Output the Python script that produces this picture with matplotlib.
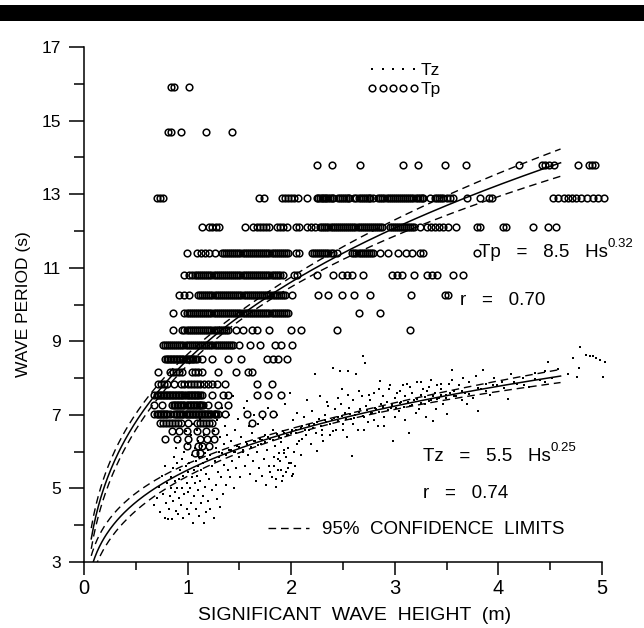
import numpy as np
import matplotlib
matplotlib.use("Agg")
import matplotlib.pyplot as plt
from matplotlib.lines import Line2D
from matplotlib.ticker import MultipleLocator

plt.rcParams['font.family'] = ['Liberation Sans', 'DejaVu Sans']

# ---------------- data ----------------
# fitted relations  T = a * Hs^b
tp_fit = (8.5, 0.32)
tz_fit = (5.5, 0.25)
tp_r = 0.70
tz_r = 0.74
fit_hs_range = (0.07, 4.6)
# 95% confidence band (log-space half width: w0, centre ln Hs, spread)
tp_ci = (0.012, np.log(1.7), 0.5)
tz_ci = (0.011, np.log(2.5), 0.35)

# Tp observations: discrete spectral-peak periods (s) and the Hs (m) values seen on each
tp_15_9 = [0.84, 0.87, 1.01]
tp_14_7 = [0.81, 0.84, 0.94, 1.18, 1.43]
tp_13_8 = [2.25, 2.39, 2.66, 3.08, 3.22, 3.48, 3.69, 4.20, 4.42, 4.45, 4.49, 4.54,
           4.77, 4.87, 4.90, 4.93]
tp_12_9 = [0.70, 0.73, 0.76, 1.69, 1.74, 1.91, 1.94, 1.97, 2.00, 2.03, 2.07, 2.15,
           2.25, 2.28, 2.31, 2.34, 2.37, 2.40, 2.45, 2.49, 2.53, 2.56, 2.61, 2.65,
           2.69, 2.73, 2.76, 2.79, 2.84, 2.88, 2.92, 2.96, 3.00, 3.04, 3.08, 3.12,
           3.16, 3.20, 3.24, 3.27, 3.34, 3.39, 3.43, 3.47, 3.50, 3.53, 3.56, 3.70,
           3.82, 3.91, 3.94, 4.53, 4.58, 4.63, 4.67, 4.71, 4.75, 4.80, 4.86, 4.91,
           4.96, 5.02,
           2.26, 2.30, 2.33, 2.36, 2.39, 2.47, 2.51, 2.55, 2.63, 2.67, 2.71, 2.75,
           2.86, 2.90, 2.94, 2.98, 3.02, 3.06, 3.10, 3.14, 3.18, 3.22, 3.26, 3.41, 3.45]
tp_12_1 = [1.14, 1.21, 1.24, 1.27, 1.30, 1.55, 1.63, 1.67, 1.70, 1.73, 1.76, 1.79,
           1.86, 1.89, 1.92, 1.96, 2.05, 2.08, 2.15, 2.19, 2.23, 2.28, 2.32, 2.36,
           2.40, 2.44, 2.48, 2.52, 2.56, 2.60, 2.64, 2.68, 2.72, 2.76, 2.80, 2.84,
           2.88, 2.95, 2.99, 3.03, 3.07, 3.11, 3.15, 3.19, 3.24, 3.31, 3.35, 3.39,
           3.43, 3.47, 3.51, 3.59, 3.79, 3.82, 4.04, 4.07, 4.33, 4.48, 4.56,
           2.30, 2.34, 2.38, 2.42, 2.46, 2.50, 2.54, 2.58, 2.62, 2.66, 2.70, 2.74,
           2.78, 2.82, 2.86, 2.97, 3.01, 3.05, 3.09, 3.13, 3.17]
tp_11_4 = [0.99, 1.09, 1.13, 1.17, 1.21, 1.26, 1.33, 1.37, 1.41, 1.45, 1.49, 1.53,
           1.57, 1.61, 1.65, 1.69, 1.73, 1.77, 1.81, 1.85, 1.89, 1.93, 1.97, 2.05,
           2.08, 2.20, 2.24, 2.28, 2.32, 2.36, 2.40, 2.44, 2.59, 2.63, 2.67, 2.71,
           2.75, 2.79, 2.86, 2.93, 3.03, 3.11, 3.17, 3.24, 3.27, 3.79,
           1.35, 1.39, 1.43, 1.47, 1.51, 1.55, 1.59, 1.63, 1.67, 1.71, 1.75, 1.79,
           1.83, 1.87, 1.91, 1.95, 2.22, 2.26, 2.30, 2.34, 2.38, 2.61, 2.65, 2.69,
           2.73, 2.77]
tp_10_8 = [0.97, 1.01, 1.04, 1.07, 1.11, 1.15, 1.19, 1.23, 1.27, 1.31, 1.35, 1.39,
           1.43, 1.47, 1.51, 1.55, 1.59, 1.63, 1.67, 1.71, 1.75, 1.79, 1.83, 1.87,
           1.92, 2.03, 2.06, 2.25, 2.40, 2.49, 2.54, 2.59, 2.69, 2.97, 3.02, 3.07,
           3.19, 3.31, 3.36, 3.41, 3.56, 3.66,
           1.09, 1.13, 1.17, 1.21, 1.25, 1.29, 1.33, 1.37, 1.41, 1.45, 1.49, 1.53,
           1.57, 1.61, 1.65, 1.69, 1.73, 1.77, 1.81, 1.85, 1.89]
tp_10_3 = [0.92, 0.97, 1.01, 1.10, 1.14, 1.18, 1.22, 1.26, 1.30, 1.34, 1.38, 1.42,
           1.46, 1.50, 1.54, 1.58, 1.62, 1.66, 1.70, 1.74, 1.78, 1.82, 1.86, 1.90,
           1.94, 2.01, 2.26, 2.36, 2.49, 2.61, 2.76, 3.16, 3.48, 3.51,
           1.12, 1.16, 1.20, 1.24, 1.28, 1.32, 1.36, 1.40, 1.44, 1.48, 1.52, 1.56,
           1.60, 1.64, 1.68, 1.72, 1.76, 1.80, 1.84, 1.88, 1.92]
tp_9_8 = [0.86, 0.97, 1.01, 1.05, 1.09, 1.13, 1.17, 1.21, 1.25, 1.29, 1.33, 1.37,
          1.41, 1.45, 1.49, 1.53, 1.57, 1.61, 1.65, 1.69, 1.73, 1.77, 1.81, 1.85,
          1.89, 1.93, 1.97, 2.65, 2.86,
          0.99, 1.03, 1.07, 1.11, 1.15, 1.19, 1.23, 1.27, 1.31, 1.35, 1.39, 1.43,
          1.47, 1.51, 1.55, 1.59, 1.63, 1.67, 1.71, 1.75, 1.79, 1.83, 1.87, 1.91, 1.95]
tp_9_3 = [0.86, 0.95, 0.99, 1.03, 1.07, 1.11, 1.15, 1.19, 1.23, 1.27, 1.31, 1.35,
          1.39, 1.47, 1.53, 1.62, 1.67, 1.79, 2.00, 2.09, 2.44, 3.15,
          0.97, 1.01, 1.05, 1.09, 1.13, 1.17, 1.21, 1.25, 1.29, 1.33, 1.37]
tp_8_9 = [0.76, 0.80, 0.84, 0.88, 0.92, 0.96, 1.00, 1.04, 1.08, 1.12, 1.16, 1.20,
          1.24, 1.28, 1.32, 1.36, 1.40, 1.44, 1.50, 1.60, 1.70, 1.84, 1.90, 2.01,
          0.78, 0.82, 0.86, 0.90, 0.94, 0.98, 1.02, 1.06, 1.10, 1.14, 1.18, 1.22,
          1.26, 1.30, 1.34, 1.38, 1.42]
tp_8_5 = [0.78, 0.81, 0.84, 0.87, 0.90, 0.93, 0.96, 0.99, 1.02, 1.05, 1.09, 1.14,
          1.24, 1.39, 1.52, 1.77, 1.82, 1.87, 1.96,
          0.80, 0.83, 0.86, 0.89, 0.92, 0.95, 0.98, 1.01, 1.04, 1.07]
tp_8_2 = [0.71, 0.83, 0.86, 0.89, 0.92, 0.95, 1.04, 1.07, 1.10, 1.14, 1.29, 1.47,
          1.58, 1.62]
tp_7_8 = [0.71, 0.74, 0.77, 0.80, 0.87, 0.94, 0.97, 1.00, 1.03, 1.06, 1.09, 1.12,
          1.16, 1.20, 1.24, 1.28, 1.36, 1.67, 1.81]
tp_7_5 = [0.68, 0.71, 0.74, 0.77, 0.80, 0.83, 0.86, 0.89, 0.92, 0.95, 0.98, 1.01,
          1.04, 1.07, 1.10, 1.14, 1.24, 1.34, 1.39, 1.67, 1.78, 1.90,
          0.70, 0.73, 0.76, 0.79, 0.82, 0.85, 0.88, 0.91, 0.94, 0.97, 1.00, 1.03,
          1.06, 1.09, 1.12]
tp_7_3 = [0.68, 0.75, 0.85, 0.88, 0.91, 0.94, 0.97, 1.00, 1.03, 1.06, 1.09, 1.12,
          1.15, 1.20, 1.29, 1.39,
          0.87, 0.90, 0.93, 0.96, 0.99, 1.02, 1.05, 1.08, 1.11, 1.13]
tp_7_0 = [0.68, 0.71, 0.74, 0.77, 0.80, 0.83, 0.87, 0.90, 0.93, 0.96, 0.99, 1.02,
          1.05, 1.08, 1.11, 1.14, 1.17, 1.20, 1.23, 1.26, 1.29, 1.36, 1.57, 1.72, 1.82,
          0.70, 0.73, 0.76, 0.79, 0.89, 0.92, 0.95, 0.98, 1.01, 1.04, 1.07, 1.10,
          1.13, 1.16, 1.19, 1.22, 1.25, 1.27]
tp_6_8 = [0.73, 0.76, 0.79, 0.82, 0.85, 0.88, 0.91, 0.94, 1.00, 1.09, 1.12, 1.15,
          1.18, 1.21, 1.24, 1.62]
tp_6_6 = [0.85, 0.92, 0.99, 1.09, 1.18, 1.26]
tp_6_4 = [0.78, 0.90, 1.00, 1.12, 1.19, 1.25]
tp_6_2 = [0.99, 1.10, 1.14, 1.21]
tp_6_0 = [1.07, 1.12]

tp_levels = [15.9, 14.7, 13.8, 12.9, 12.1, 11.4, 10.8, 10.26, 9.76, 9.3, 8.89, 8.51,
             8.16, 7.84, 7.55, 7.27, 7.02, 6.78, 6.56, 6.35, 6.15, 5.96]
tp_rows = [tp_15_9, tp_14_7, tp_13_8, tp_12_9, tp_12_1, tp_11_4, tp_10_8, tp_10_3,
           tp_9_8, tp_9_3, tp_8_9, tp_8_5, tp_8_2, tp_7_8, tp_7_5, tp_7_3, tp_7_0,
           tp_6_8, tp_6_6, tp_6_4, tp_6_2, tp_6_0]

# Tz observations (Hs m, Tz s) - scattered cloud
tz_hs = [0.68, 0.70, 0.72, 0.73, 0.75, 0.76, 0.78, 0.78, 0.79, 0.80,
         0.81, 0.82, 0.83, 0.84, 0.84, 0.85, 0.86, 0.86, 0.87, 0.88, 0.88, 0.89, 0.89, 0.90, 0.90,
         0.91, 0.92, 0.92, 0.93, 0.93, 0.94, 0.95, 0.95, 0.96, 0.96, 0.97, 0.97, 0.98, 0.98, 0.99, 0.99, 1.00, 1.00, 1.00,
         1.01, 1.01, 1.02, 1.03, 1.03, 1.04, 1.04, 1.05, 1.05, 1.06, 1.06, 1.07, 1.07, 1.08, 1.08, 1.09, 1.09, 1.10, 1.10, 1.10,
         1.11, 1.11, 1.12, 1.12, 1.13, 1.13, 1.14, 1.15, 1.15, 1.16, 1.16, 1.17, 1.17, 1.18, 1.18, 1.19, 1.19, 1.20, 1.20,
         1.21, 1.21, 1.22, 1.22, 1.23, 1.24, 1.24, 1.25, 1.25, 1.26, 1.27, 1.27, 1.28, 1.28, 1.29, 1.30, 1.30,
         1.31, 1.31, 1.32, 1.33, 1.33, 1.34, 1.35, 1.35, 1.36, 1.37, 1.37, 1.38, 1.39, 1.40, 1.40,
         1.41, 1.42, 1.43, 1.44, 1.45, 1.45, 1.46, 1.47, 1.48, 1.49, 1.50, 1.51, 1.52, 1.53, 1.54, 1.55,
         1.56, 1.57, 1.58, 1.59, 1.60, 1.61, 1.62, 1.63, 1.64, 1.65, 1.66, 1.67, 1.68, 1.69, 1.70,
         1.71, 1.72, 1.73, 1.74, 1.75, 1.76, 1.77, 1.78, 1.79, 1.80, 1.81, 1.82, 1.83, 1.84, 1.85, 1.86, 1.87, 1.88, 1.89, 1.90,
         1.91, 1.92, 1.93, 1.94, 1.95, 1.96, 1.97, 1.98, 1.99, 2.00, 2.01, 2.02, 2.03, 2.04, 2.05, 2.06, 2.08, 2.09, 2.10,
         2.12, 2.14, 2.15, 2.17, 2.19, 2.20, 2.22, 2.23, 2.24, 2.25, 2.27, 2.28, 2.30, 2.31, 2.33, 2.34, 2.36, 2.37, 2.39, 2.40,
         2.42, 2.43, 2.45, 2.47, 2.48, 2.49, 2.50, 2.52, 2.54, 2.55, 2.56, 2.58, 2.59, 2.60, 2.62, 2.63, 2.64, 2.66, 2.68, 2.69, 2.70,
         2.71, 2.72, 2.74, 2.76, 2.78, 2.80, 2.82, 2.84, 2.86, 2.87, 2.89, 2.90, 2.92, 2.94, 2.96, 2.98, 3.00,
         3.02, 3.04, 3.06, 3.08, 3.10, 3.12, 3.14, 3.15, 3.17, 3.19, 3.21, 3.23, 3.25, 3.27, 3.29,
         3.31, 3.33, 3.35, 3.37, 3.39, 3.41, 3.43, 3.45, 3.47, 3.49, 3.50, 3.52, 3.55, 3.57, 3.59,
         3.62, 3.66, 3.68, 3.72, 3.75, 3.78, 3.80, 3.83, 3.85, 3.88, 3.92, 3.96, 3.99,
         4.03, 4.09, 4.12, 4.18, 4.24, 4.30, 4.35, 4.40, 4.45, 4.48, 4.52, 4.58,
         4.67, 4.72, 4.76, 4.78, 4.79, 4.85, 4.88, 4.91, 4.94, 4.98, 5.01, 5.03]
tz_t = [4.55, 4.75, 5.05, 4.35, 5.35, 4.85, 4.20, 5.60, 4.60, 5.15,
        4.17, 4.45, 4.80, 5.00, 5.30, 4.17, 5.55, 4.65, 5.85, 4.90, 5.20, 6.10, 4.40, 5.70, 5.00,
        4.30, 4.75, 5.25, 5.50, 6.30, 4.55, 5.00, 5.80, 4.20, 5.35, 6.00, 4.85, 5.60, 6.55, 4.45, 5.15, 5.45, 6.20, 4.90,
        4.30, 5.70, 5.00, 6.45, 4.60, 5.30, 5.90, 4.06, 6.75, 5.50, 4.80, 5.15, 6.10, 4.45, 5.75, 5.35, 6.60, 4.95, 5.60, 6.30,
        4.25, 5.85, 5.20, 6.90, 4.60, 5.50, 6.15, 4.80, 5.70, 4.06, 6.45, 5.05, 5.95, 4.35, 5.40, 6.70, 5.80, 4.65, 6.05,
        5.25, 7.05, 4.45, 5.90, 6.30, 4.95, 5.60, 6.55, 4.20, 5.75, 5.10, 6.10, 6.85, 4.70, 5.45, 6.00, 5.85,
        4.50, 6.40, 5.30, 5.95, 7.20, 4.85, 5.65, 6.20, 6.70, 5.10, 5.90, 6.45, 5.50, 6.05, 7.00,
        5.30, 6.30, 5.75, 7.50, 6.00, 5.00, 6.60, 5.55, 6.15, 6.90, 5.85, 5.30, 6.40, 6.05, 7.20, 5.60,
        6.25, 7.38, 5.90, 6.70, 5.40, 6.10, 6.50, 5.75, 7.00, 6.30, 5.20, 6.00, 6.75, 5.55, 6.35,
        6.20, 5.35, 6.90, 5.80, 6.45, 5.10, 6.05, 7.20, 5.60, 6.35, 5.30, 6.60, 5.85, 6.15, 5.05, 7.00, 5.50, 6.40, 5.75, 6.25,
        5.20, 6.55, 5.95, 7.30, 5.45, 6.45, 6.10, 5.70, 7.60, 6.50, 5.35, 6.85, 6.00, 5.60, 6.60, 7.05, 6.30, 5.90, 6.70,
        6.95, 6.45, 7.40, 6.60, 6.20, 7.10, 6.75, 8.12, 6.50, 6.02, 6.90, 7.50, 6.60, 6.30, 7.00, 6.80, 7.25, 6.45, 6.85, 8.28,
        7.15, 6.60, 6.95, 8.20, 7.30, 7.71, 6.75, 7.05, 6.40, 8.20, 7.20, 6.90, 5.88, 7.40, 7.00, 8.12, 6.60, 7.15, 7.50, 8.61, 6.95,
        8.42, 7.25, 6.80, 7.40, 7.05, 7.60, 7.15, 6.70, 7.93, 7.30, 7.50, 6.95, 7.35, 7.70, 7.20, 6.29, 7.45,
        7.60, 7.10, 7.35, 7.80, 7.50, 7.84, 6.51, 7.25, 7.60, 7.40, 7.90, 7.15, 7.55, 7.70, 7.30,
        7.65, 7.75, 7.40, 6.84, 7.60, 7.80, 7.45, 7.70, 7.30, 7.55, 7.03, 7.85, 8.23, 7.65, 7.50,
        7.80, 8.00, 7.60, 7.90, 7.45, 8.05, 7.10, 7.70, 8.23, 7.85, 7.55, 8.00, 7.80,
        7.90, 7.44, 8.10, 7.85, 8.00, 7.75, 8.15, 7.95, 8.20, 8.44, 8.00, 8.25,
        8.10, 8.55, 8.04, 8.28, 8.85, 8.62, 8.60, 8.60, 8.55, 8.50, 8.04, 8.45]

# Tz observations lying in the dense band near the fitted curve
tz_band_hs = [1.42, 1.46, 1.50, 1.53, 1.57, 1.61, 1.64, 1.68, 1.72, 1.75, 1.78, 1.82,
              1.86, 1.90, 1.93, 1.97, 2.01, 2.05, 2.09, 2.13, 2.17, 2.21, 2.25, 2.29,
              2.33, 2.37, 2.41, 2.45, 2.49, 2.53, 2.57, 2.61, 2.65, 2.69, 2.73, 2.77,
              2.81, 2.85, 2.89, 2.93, 2.97, 3.01, 3.05, 3.09, 3.13, 3.17, 3.21, 3.25,
              3.29, 3.33, 3.37, 3.41, 3.45, 3.49, 3.53, 3.57, 3.65, 3.72, 3.80, 3.88,
              3.95, 4.05, 4.15, 4.25, 4.35, 4.45,
              1.80, 1.83, 1.85, 1.87, 1.90, 1.92, 1.95, 1.97, 2.00, 2.02, 1.88, 1.93,
              2.06, 2.10, 2.30, 2.40, 2.50, 2.60, 2.70, 2.80, 2.90, 3.00, 3.10, 3.20,
              3.30, 3.40, 2.35, 2.45, 2.55, 2.65, 2.75, 2.85, 2.95, 3.05, 3.15, 3.25,
              3.35, 3.45, 3.55, 3.65, 3.70]
tz_band_t = [6.05, 5.98, 6.12, 6.00, 6.20, 6.12, 6.28, 6.18, 6.33, 6.25, 6.40, 6.32,
             6.47, 6.38, 6.52, 6.45, 6.60, 6.50, 6.65, 6.58, 6.72, 6.64, 6.80, 6.70,
             6.86, 6.76, 6.92, 6.82, 6.96, 6.88, 7.02, 6.92, 7.08, 6.98, 7.12, 7.04,
             7.18, 7.08, 7.22, 7.12, 7.28, 7.18, 7.32, 7.22, 7.36, 7.28, 7.42, 7.32,
             7.48, 7.38, 7.52, 7.42, 7.55, 7.46, 7.60, 7.50, 7.66, 7.58, 7.74, 7.64,
             7.82, 7.72, 7.90, 7.80, 7.98, 7.88,
             5.45, 5.60, 5.25, 5.80, 5.50, 5.35, 5.85, 5.55, 5.70, 5.40, 5.95, 6.05,
             6.20, 6.35, 6.45, 6.55, 6.60, 6.75, 6.60, 6.85, 6.70, 6.95, 6.85, 7.05,
             6.95, 7.15, 7.35, 7.45, 7.55, 7.65, 7.55, 7.70, 7.80, 7.65, 7.75, 7.90,
             7.95, 7.85, 7.95, 7.40, 7.30]

x_ticks = [0, 1, 2, 3, 4, 5]
y_ticks = [3, 5, 7, 9, 11, 13, 15, 17]

# ---------------- figure ----------------
W, H = 644, 628
fig = plt.figure(figsize=(W / 100, H / 100), dpi=100)
fig.patches.append(plt.Rectangle((0, (H - 21) / H), 1, 16 / H, transform=fig.transFigure,
                                 facecolor='black', edgecolor='none', zorder=10))
ax = fig.add_axes([84 / W, 66 / H, 518 / W, 515 / H])
ax.set_xlim(0, 5)
ax.set_ylim(3, 17)
for s in ('top', 'right'):
    ax.spines[s].set_visible(False)
for s in ('left', 'bottom'):
    ax.spines[s].set_linewidth(1.1)

ax.xaxis.set_major_locator(plt.FixedLocator(x_ticks))
ax.xaxis.set_minor_locator(MultipleLocator(0.5))
ax.yaxis.set_major_locator(plt.FixedLocator(y_ticks))
ax.yaxis.set_minor_locator(MultipleLocator(1))
ax.tick_params(axis='y', which='major', direction='out', length=10.8, width=1.1, pad=6, labelsize=12.5)
ax.tick_params(axis='y', which='minor', direction='out', length=7.2, width=1.1)
ax.tick_params(axis='x', which='major', direction='out', length=9.4, width=1.1, pad=3, labelsize=14.5)
ax.tick_params(axis='x', which='minor', direction='out', length=5.8, width=1.1)

ax.set_xlabel('SIGNIFICANT  WAVE  HEIGHT  (m)', fontsize=14, labelpad=6,
              x=(355 - 84) / 518)
ax.set_ylabel('WAVE PERIOD (s)', fontsize=12.5, labelpad=7)

# observations
tz_style = dict(ls='none', marker='s', ms=1.9, mew=0, color='black', clip_on=False)
ax.plot(tz_hs, tz_t, **tz_style)
ax.plot(tz_band_hs, tz_band_t, **tz_style)
for lev, row in zip(tp_levels, tp_rows):
    ax.plot(row, [lev] * len(row), ls='none', marker='o', ms=4.8, mfc='none',
            mec='black', mew=1.1, clip_on=False)

# fitted curves and confidence limits
hs = np.linspace(fit_hs_range[0], fit_hs_range[1], 400)
dash = (0, (5.5, 3.5))
for (a, b), (w0, m, sp) in ((tp_fit, tp_ci), (tz_fit, tz_ci)):
    t = a * hs ** b
    w = w0 * np.sqrt(1 + ((np.log(hs) - m) / sp) ** 2)
    ax.plot(hs, t, color='black', lw=1.1)
    ax.plot(hs, t * np.exp(w), color='black', lw=1.0, ls=dash)
    ax.plot(hs, t * np.exp(-w), color='black', lw=1.0, ls=dash)

# legends
def axfrac(px, py):
    return ((px - 84) / 518, (562 - py) / 515)

h_tz = Line2D([], [], ls='none', marker='s', ms=1.9, mew=0, color='black')
h_tp = Line2D([], [], ls='none', marker='o', ms=4.8, mfc='none', mec='black', mew=1.1)
leg1 = ax.legend([h_tz, h_tp], ['Tz', 'Tp'], numpoints=5, handlelength=3.0,
                 handletextpad=0.1, labelspacing=0.2, frameon=False, fontsize=12.5,
                 loc='upper left', bbox_to_anchor=axfrac(367, 63), borderpad=0,
                 borderaxespad=0)
ax.add_artist(leg1)
h_ci = Line2D([], [], color='black', lw=1.0, ls=dash)
ax.legend([h_ci], ['95%  CONFIDENCE  LIMITS'], handlelength=2.2, handletextpad=0.7,
          frameon=False, fontsize=13.5, loc='upper left', bbox_to_anchor=axfrac(268, 521),
          borderpad=0, borderaxespad=0)

# equation annotations
def eq(name, px, py, a, b, r, rpx, rpy):
    t = ax.text(*axfrac(px, py), f'{name}   =   {a}   Hs',
                transform=ax.transAxes, fontsize=13.5, ha='left', va='baseline')
    ax.annotate(f'{b:.2f}', xy=(1.0, 0.62), xycoords=t, fontsize=9.5, ha='left',
                va='bottom')
    ax.text(*axfrac(rpx, rpy), f'r   =   {r:.2f}', transform=ax.transAxes, fontsize=13.5,
            ha='left', va='baseline')

eq('Tp', 479, 257, tp_fit[0], tp_fit[1], tp_r, 460, 305)
eq('Tz', 423, 461, tz_fit[0], tz_fit[1], tz_r, 423, 498)

fig.savefig('out.png', dpi=100)
